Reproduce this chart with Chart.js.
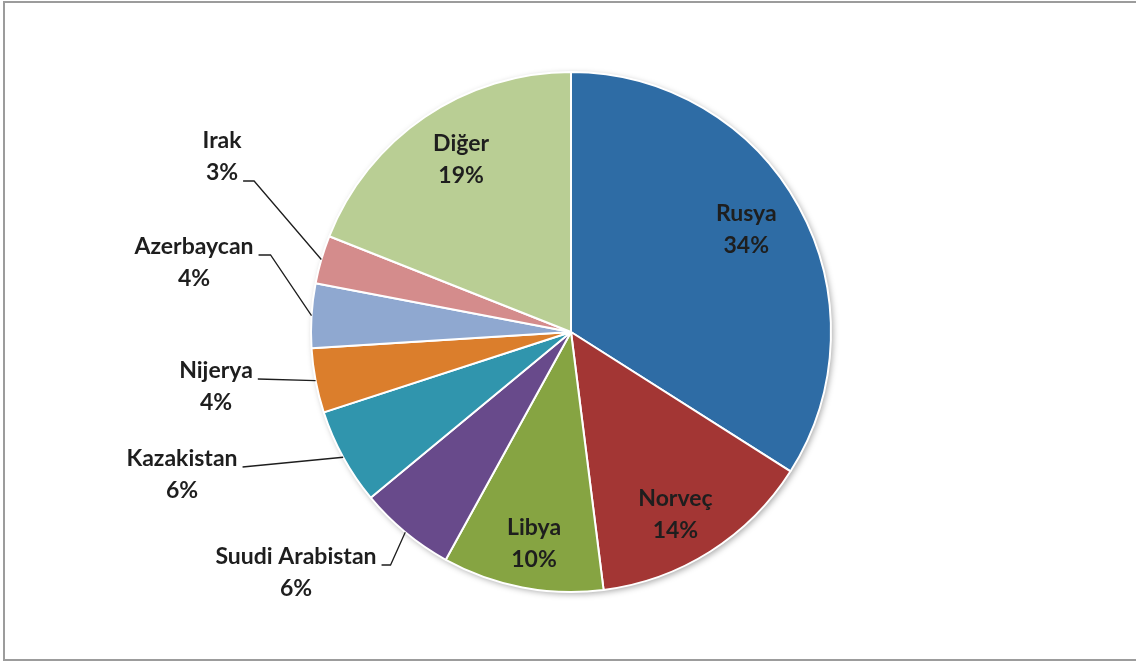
<!DOCTYPE html>
<html>
<head>
<meta charset="utf-8">
<script src="https://cdn.jsdelivr.net/npm/chart.js@4"></script>
<style>
  html, body { margin: 0; padding: 0; background: #fff; overflow: hidden; }
  .frame {
    position: absolute; left: 3px; top: 1px; width: 1150px; height: 660px;
    border: 2px solid #9c9c9c; box-sizing: border-box;
  }
  .wrap { position: absolute; left: 0; top: 0; width: 1136px; height: 666px; }
</style>
</head>
<body>
<div class="frame"></div>
<div class="wrap"><canvas id="pieChart"></canvas></div>
<script>
// Doğal gaz ithalatı, ülkelere göre pay (%)
const countries = ['Rusya', 'Norveç', 'Libya', 'Suudi Arabistan', 'Kazakistan', 'Nijerya', 'Azerbaycan', 'Irak', 'Diğer'];
const shares = [34, 14, 10, 6, 6, 4, 4, 3, 19];
const sliceColors = ['#2e6ca5', '#a33634', '#86a442', '#684a8b', '#3095ad', '#db7e2c', '#8fa8d0', '#d48c8c', '#b9ce94'];

// dilim içi etiketler için küçük kaydırmalar
const insideNudge = {
    0: { dx: -7, dy: -2 },
    1: { dx: -7, dy: 7 },
    2: { dx: 2, dy: 7 },
    8: { dx: 7, dy: 0 }
};

// dış etiketler: pasta merkezine göre konum, çizginin bağlandığı satır, dirsek uzunluğu
const callouts = {
    3: { dx: -275, dy: 225, line: 0, elbow: 9 },
    4: { dx: -389, dy: 127, line: 0, elbow: 0 },
    5: { dx: -355, dy: 39, line: 0, elbow: 0 },
    6: { dx: -377, dy: -85, line: 0, elbow: 12 },
    7: { dx: -349, dy: -191, line: 1, elbow: 11 }
};

const FONT = 'bold 23px Lato, "Liberation Sans", sans-serif';
const LINE_H = 32;

// pastanın altındaki yumuşak gölge
const pieShadow = {
    id: 'pieShadow',
    beforeDatasetsDraw(chart) {
        const arc = chart.getDatasetMeta(0).data[0];
        if (!arc) return;
        const { x, y, outerRadius } = arc.getProps(['x', 'y', 'outerRadius'], true);
        const ctx = chart.ctx;
        ctx.save();
        ctx.shadowColor = 'rgba(0,0,0,0.35)';
        ctx.shadowBlur = 6;
        ctx.shadowOffsetX = 2;
        ctx.shadowOffsetY = 2;
        ctx.fillStyle = '#fff';
        ctx.beginPath();
        ctx.arc(x, y, outerRadius, 0, Math.PI * 2);
        ctx.fill();
        ctx.restore();
    }
};

const sliceLabels = {
    id: 'sliceLabels',
    afterDatasetsDraw(chart) {
        const ctx = chart.ctx;
        const meta = chart.getDatasetMeta(0);
        ctx.save();
        ctx.font = FONT;
        ctx.fillStyle = '#1e1e1e';
        ctx.strokeStyle = '#1e1e1e';
        ctx.lineWidth = 1.3;
        ctx.textAlign = 'center';
        ctx.textBaseline = 'middle';
        meta.data.forEach((arc, i) => {
            const p = arc.getProps(['x', 'y', 'startAngle', 'endAngle', 'outerRadius'], true);
            const mid = (p.startAngle + p.endAngle) / 2;
            const lines = [countries[i], shares[i] + '%'];
            const c = callouts[i];
            if (!c) {
                const n = insideNudge[i] || { dx: 0, dy: 0 };
                const r = p.outerRadius * 0.8;
                const lx = p.x + Math.cos(mid) * r + n.dx;
                const ly = p.y + Math.sin(mid) * r - LINE_H / 2 + n.dy;
                lines.forEach((t, k) => ctx.fillText(t, lx, ly + k * LINE_H));
                return;
            }
            const lx = p.x + c.dx;
            const ly = p.y + c.dy;
            lines.forEach((t, k) => ctx.fillText(t, lx, ly + k * LINE_H));
            // çizgi: yazının sağından dilimin kenarına
            const w = ctx.measureText(lines[c.line]).width;
            const sx = lx + w / 2 + 5;
            const sy = ly + c.line * LINE_H + 8;
            const ex = p.x + Math.cos(mid) * p.outerRadius;
            const ey = p.y + Math.sin(mid) * p.outerRadius;
            ctx.beginPath();
            ctx.moveTo(sx, sy);
            ctx.lineTo(sx + c.elbow, sy);
            ctx.lineTo(ex, ey);
            ctx.stroke();
        });
        ctx.restore();
    }
};

new Chart(document.getElementById('pieChart'), {
    type: 'pie',
    data: {
        labels: countries,
        datasets: [{
            data: shares,
            backgroundColor: sliceColors,
            borderColor: '#fff',
            borderWidth: 2
        }]
    },
    options: {
        responsive: true,
        maintainAspectRatio: false,
        animation: false,
        layout: { padding: { left: 310, right: 304, top: 71, bottom: 73 } },
        plugins: {
            legend: { display: false },
            tooltip: { enabled: false }
        }
    },
    plugins: [pieShadow, sliceLabels]
});
</script>
</body>
</html>
